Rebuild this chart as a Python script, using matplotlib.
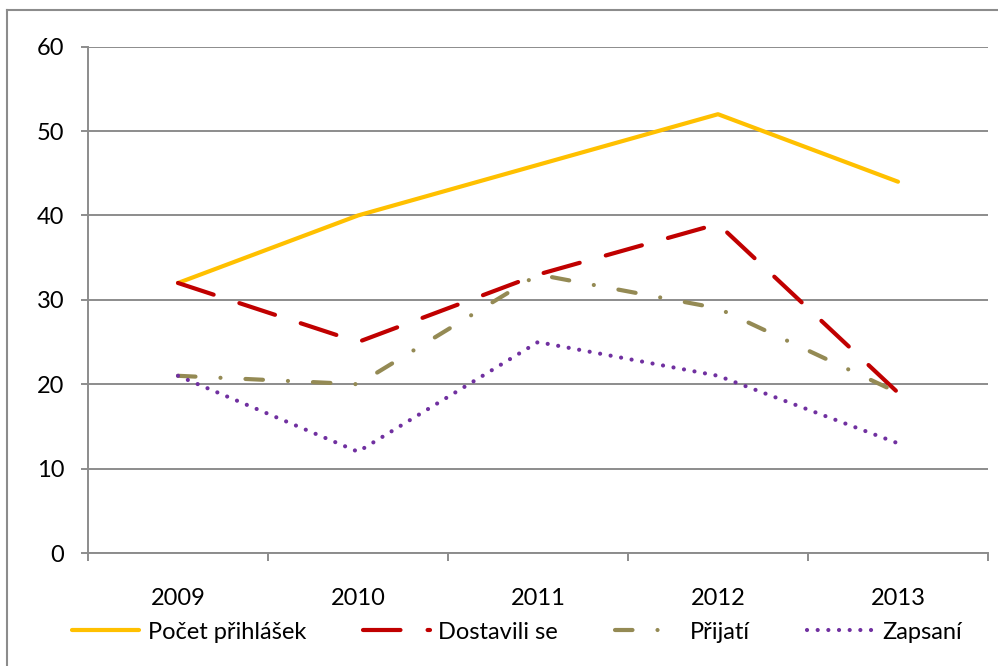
import matplotlib
matplotlib.use("Agg")
import matplotlib.pyplot as plt
from matplotlib.lines import Line2D
import numpy as np

years = ["2009", "2010", "2011", "2012", "2013"]
pocet_prihlasek = [32, 40, 46, 52, 44]
dostavili_se = [32, 25, 33, 39, 19]
prijati = [21, 20, 33, 29, 19]
zapsani = [21, 12, 25, 21, 13]
series_names = ["Počet přihlášek", "Dostavili se", "Přijatí", "Zapsaní"]
y_ticks = [0, 10, 20, 30, 40, 50, 60]

plt.rcParams['font.family'] = ['Lato', 'DejaVu Sans']
FS = 17

fig = plt.figure(figsize=(9.98, 6.66), dpi=100)
ax = fig.add_axes([88/998, 1-553/666, (988-88)/998, (553-46.7)/666])

grid_c = '#8c8c8c'
x = np.arange(len(years))
lw = 3.0

styles = [
    dict(color='#FFC000', linestyle='-', solid_capstyle='round'),
    dict(color='#C00000', linestyle=(0, (9, 6.5)), dash_capstyle='round'),
    dict(color='#948A54', linestyle=(0, (4.2, 6, 0.01, 6)), dash_capstyle='round'),
    dict(color='#7030A0', linestyle=(0, (0.01, 2.55)), dash_capstyle='round'),
]
data = [pocet_prihlasek, dostavili_se, prijati, zapsani]
handles = []
for name, vals, st in zip(series_names, data, styles):
    ln, = ax.plot(x, vals, lw=lw, label=name, solid_joinstyle='round',
                  dash_joinstyle='round', zorder=3, **st)
    handles.append(ln)

ax.set_xlim(-0.5, len(years) - 0.5)
ax.set_ylim(0, 60)
ax.set_yticks(y_ticks)
ax.set_yticklabels([str(v) for v in y_ticks], fontsize=FS)
ax.yaxis.grid(True, color=grid_c, lw=1.4, zorder=1)
ax.set_axisbelow(True)

ax.set_xticks(x)
ax.set_xticklabels(years, fontsize=FS)
ax.set_xticks(np.arange(-0.5, len(years)), minor=True)
ax.tick_params(axis='x', which='major', length=0, pad=25)
ax.tick_params(axis='x', which='minor', length=6, width=1.4, color=grid_c, direction='out')
ax.tick_params(axis='y', length=5, width=1.4, color=grid_c, direction='out', pad=12)

for s in ['top', 'right']:
    ax.spines[s].set_visible(False)
for s in ['left', 'bottom']:
    ax.spines[s].set_color(grid_c)
    ax.spines[s].set_linewidth(1.4)

fig.legend(handles=handles, loc='center', bbox_to_anchor=(0.518, 0.051), ncol=4,
           frameon=False, fontsize=FS, handlelength=2.85, handletextpad=0.35,
           columnspacing=2.4)

# outer chart border (left and top visible)
fig.add_artist(Line2D([7/998, 7/998], [0, 1-10/666], color='#8c8c8c', lw=1.5,
                      transform=fig.transFigure))
fig.add_artist(Line2D([7/998, 1], [1-10/666, 1-10/666], color='#8c8c8c', lw=1.5,
                      transform=fig.transFigure))

fig.savefig("out.png", dpi=100)
